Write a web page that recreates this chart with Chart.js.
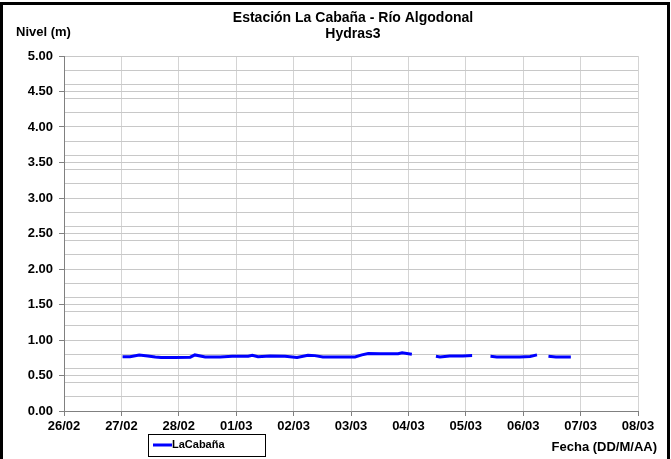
<!DOCTYPE html>
<html>
<head>
<meta charset="utf-8">
<script src="https://cdn.jsdelivr.net/npm/chart.js@4/dist/chart.umd.min.js"></script>
<style>
  html, body { margin: 0; padding: 0; background: #fff; }
  #wrap { width: 671px; height: 459px; }
</style>
</head>
<body>
<div id="wrap"><canvas id="nivelChart" width="671" height="459"></canvas></div>
<script>
// x = days since 26/02 00:00, null = gap in the record
const dayLabels = ["26/02", "27/02", "28/02", "01/03", "02/03", "03/03", "04/03", "05/03", "06/03", "07/03", "08/03"];
const days = [
    1.02, 1.15, 1.31, 1.46, 1.59, 1.69, 1.93, 2.20, 2.28, 2.46, 2.72, 2.93, 3.21, 3.28, 3.38, 3.59,
    3.85, 4.06, 4.25, 4.37, 4.51, 4.81, 5.07, 5.19, 5.30, 5.51, 5.82, 5.89, 6.06,
    6.27,
    6.48, 6.55, 6.72, 6.95, 7.11,
    7.27,
    7.43, 7.54, 7.94, 8.12, 8.24,
    8.34,
    8.44, 8.57, 8.83
];
const nivel = [
    0.765, 0.765, 0.79, 0.776, 0.76, 0.752, 0.755, 0.758, 0.79, 0.762, 0.762, 0.77, 0.772, 0.785, 0.765, 0.776,
    0.772, 0.753, 0.786, 0.78, 0.762, 0.762, 0.762, 0.79, 0.81, 0.805, 0.808, 0.82, 0.80,
    null,
    0.772, 0.762, 0.775, 0.776, 0.78,
    null,
    0.77, 0.762, 0.762, 0.767, 0.79,
    null,
    0.772, 0.762, 0.762
];

const points = days.map((d, i) => ({ x: d, y: nivel[i] }));

const boldFont = (size) => ({ family: "'Liberation Sans', Arial, sans-serif", size: size, weight: "bold" });

// title, axis captions, legend box and frame
const decor = {
    id: "decor",
    afterDraw(chart) {
        const c = chart.ctx;
        c.save();
        c.fillStyle = "#000";
        c.textBaseline = "middle";
        c.font = "bold 14px 'Liberation Sans', Arial, sans-serif";
        c.textAlign = "center";
        c.fillText("Estación La Cabaña - Río Algodonal", 353, 18);
        c.fillText("Hydras3", 353, 34);
        c.font = "bold 13px 'Liberation Sans', Arial, sans-serif";
        c.textAlign = "left";
        c.fillText("Nivel (m)", 16, 32);
        c.textAlign = "right";
        c.fillText("Fecha (DD/M/AA)", 657, 447);

        // legend
        c.strokeStyle = "#000";
        c.lineWidth = 1;
        c.strokeRect(148.5, 434.5, 117, 22);
        c.strokeStyle = "#0000ff";
        c.lineWidth = 3;
        c.beginPath();
        c.moveTo(153, 445);
        c.lineTo(172, 445);
        c.stroke();
        c.font = "bold 11px 'Liberation Sans', Arial, sans-serif";
        c.textAlign = "left";
        c.fillText(chart.data.datasets[0].label, 172, 445);

        // outer frame
        c.strokeStyle = "#000";
        c.lineWidth = 3;
        c.strokeRect(1.5, 3.5, 667, 470);
        c.restore();
    }
};

new Chart(document.getElementById("nivelChart"), {
    type: "line",
    data: {
        datasets: [{
            label: "LaCabaña",
            data: points,
            borderColor: "#0000ff",
            borderWidth: 3,
            pointRadius: 0,
            tension: 0,
            spanGaps: false
        }]
    },
    options: {
        responsive: false,
        animation: false,
        layout: { padding: { top: 56, right: 33, bottom: 0, left: 0 } },
        plugins: {
            legend: { display: false },
            title: { display: false },
            tooltip: { enabled: false }
        },
        scales: {
            x: {
                type: "linear",
                min: 0,
                max: 10,
                afterFit: (s) => { s.height = 48; },
                ticks: {
                    stepSize: 1,
                    color: "#000",
                    font: boldFont(13),
                    padding: 3,
                    maxRotation: 0,
                    callback: (v) => dayLabels[v]
                },
                grid: { color: "#d4d4d4", tickLength: 5, tickColor: "#808080" },
                border: { color: "#808080" }
            },
            y: {
                min: 0,
                max: 5,
                afterFit: (s) => { s.width = 64; },
                ticks: {
                    stepSize: 0.5,
                    color: "#000",
                    font: boldFont(13),
                    padding: 6,
                    callback: (v) => v.toFixed(2)
                },
                grid: { color: "#c8c8c8", tickLength: 5, tickColor: "#808080" },
                border: { color: "#808080" }
            },
            y2: {
                position: "left",
                min: 0,
                max: 5,
                afterFit: (s) => { s.width = 0; },
                ticks: { stepSize: 0.2, display: false },
                grid: { color: "#c8c8c8", drawTicks: false },
                border: { display: false }
            }
        }
    },
    plugins: [decor]
});
</script>
</body>
</html>
